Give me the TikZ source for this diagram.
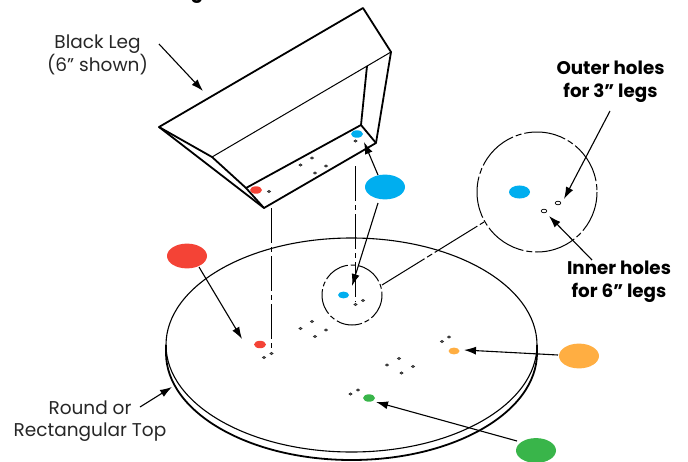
\documentclass[tikz,border=0pt]{standalone}
\usepackage{fontspec}
\setmainfont{Poppins}
\usetikzlibrary{arrows.meta}
\definecolor{cblue}{HTML}{00AEEF}
\definecolor{cred}{HTML}{F44336}
\definecolor{corange}{HTML}{FFAE42}
\definecolor{cgreen}{HTML}{39B54A}
\tikzset{
  outline/.style={draw=black,line width=1.8pt,line join=round},
  thinline/.style={draw=black,line width=1pt,line join=round},
  lead/.style={draw=black,line width=1.1pt,-{Latex[length=12pt,width=8pt]}},
  hidden/.style={draw=black,line width=0.9pt,dash pattern=on 35pt off 4pt on 5pt off 4pt},
  hole/.style={draw=black!85,line width=0.7pt,fill=black!45},
  lbl/.style={font=\fontsize{18.5}{22}\selectfont\color[gray]{0.15},align=center,inner sep=0pt},
  blbl/.style={font=\fontsize{18.3}{23}\selectfont\bfseries,align=center,inner sep=0pt},
}
\newcommand{\spot}[4]{\fill[#1] (#2,#3) ellipse [x radius=#4,y radius=#4*0.62];}
\newcommand{\hl}[2]{\draw[hole] (#1,#2) ellipse [x radius=1.5,y radius=1.1];}
\begin{document}
\begin{tikzpicture}[x=1pt,y=-1pt]
\useasboundingbox (0,0) rectangle (688,461);
\clip (0,0) rectangle (688,461);
% top
\draw[outline] (166,345) -- (166,353) arc[start angle=180,end angle=0,x radius=185.5,y radius=107] -- (537,345);
\draw[thinline,line width=1.1pt] (351.5,345) ellipse [x radius=185.5,y radius=107];
% hidden lines
\coordinate (l1a) at (271,208); \coordinate (l1b) at (271,352);
\coordinate (l2a) at (355.5,166); \coordinate (l2b) at (355.5,302);
\draw[hidden] (l1a) -- (l1b);
\draw[hidden] (l2a) -- (l2b);
% detail circles
\draw[thinline,dash pattern=on 26pt off 3pt on 5pt off 3pt] (352,295) circle [radius=30];
\draw[thinline,dash pattern=on 42pt off 3pt on 6pt off 3pt] (537,192) circle [radius=60];
\coordinate (d1) at (382,285); \coordinate (d2) at (484,222);
\draw[thinline,dash pattern=on 50pt off 3pt on 6pt off 3pt] (d1) -- (d2);
% leg
\draw[outline] (159,127) -- (363,8) -- (391,52) -- (376,143) -- (264,208) -- cycle;
\draw[outline] (159,127) -- (212,157) -- (246,188) -- (264,208);
\draw[thinline] (212,157) -- (391,52);
\draw[outline] (246,188) -- (361,125) -- (376,143);
\draw[outline] (361,125) -- (367,66);
% spots
\spot{cred}{256}{190}{6}
\spot{cblue}{357}{134}{6}
\spot{cblue}{385}{187}{20}
\spot{cred}{187}{256}{20}
\spot{cblue}{519.5}{192}{10.5}
\spot{cblue}{343.5}{295}{5.5}
\spot{cred}{260}{344.5}{6}
\spot{corange}{454}{351}{5.5}
\spot{corange}{579}{356}{20}
\spot{cgreen}{369}{398}{6}
\spot{cgreen}{536}{450.5}{20}
% holes on leg
\hl{269}{191.5}\hl{355.5}{141}\hl{300.5}{165}\hl{312}{158}\hl{326}{166}\hl{315}{173}
% holes detail
\draw[draw=black,line width=0.7pt,fill=white] (558,203) ellipse [x radius=2.8,y radius=1.8];
\draw[draw=black,line width=0.7pt,fill=white] (544,211) ellipse [x radius=2.8,y radius=1.8];
% holes on top
\hl{355.5}{304.5}\hl{363}{300.5}\hl{300.5}{328.5}\hl{312}{321.5}\hl{326}{330}\hl{315}{336.5}
\hl{264}{357.5}\hl{271.5}{353.5}\hl{442}{341.5}\hl{449}{337}
\hl{387}{365}\hl{399}{358.5}\hl{413}{366.5}\hl{401.5}{373}\hl{350.5}{394}\hl{358}{390}
% labels
\node[lbl] (black) at (97.5,55) {Black Leg\\(6” shown)};
\node[blbl] (outer) at (610.5,81.5) {Outer holes\\for 3” legs};
\node[blbl] (inner) at (619,281.5) {Inner holes\\for 6” legs};
\node[lbl] (top) at (90,421.5) {Round or\\Rectangular Top};
\node[font=\fontsize{18}{20}\selectfont\bfseries,anchor=base,inner sep=0pt] (title) at (197,-2) {g};
% leaders
\coordinate (a1s) at (159,44); \coordinate (a1e) at (203,91);
\draw[lead] (a1s) -- (a1e);
\coordinate (a2s) at (378,175); \coordinate (a2e) at (364,142);
\draw[lead] (a2s) -- (a2e);
\coordinate (a3s) at (378,203); \coordinate (a3e) at (352,286);
\draw[lead] (a3s) -- (a3e);
\coordinate (a4s) at (199,267); \coordinate (a4e) at (242,339);
\draw[lead] (a4s) -- (a4e);
\coordinate (a5s) at (610,111); \coordinate (a5e) at (564,199);
\draw[lead] (a5s) -- (a5e);
\coordinate (a6s) at (592,260); \coordinate (a6e) at (549,216);
\draw[lead] (a6s) -- (a6e);
\coordinate (a7s) at (558,355); \coordinate (a7e) at (464,350);
\draw[lead] (a7s) -- (a7e);
\coordinate (a8s) at (517,441); \coordinate (a8e) at (376,402);
\draw[lead] (a8s) -- (a8e);
\coordinate (a9s) at (140,407); \coordinate (a9e) at (172,387);
\draw[lead] (a9s) -- (a9e);
\end{tikzpicture}
\end{document}
